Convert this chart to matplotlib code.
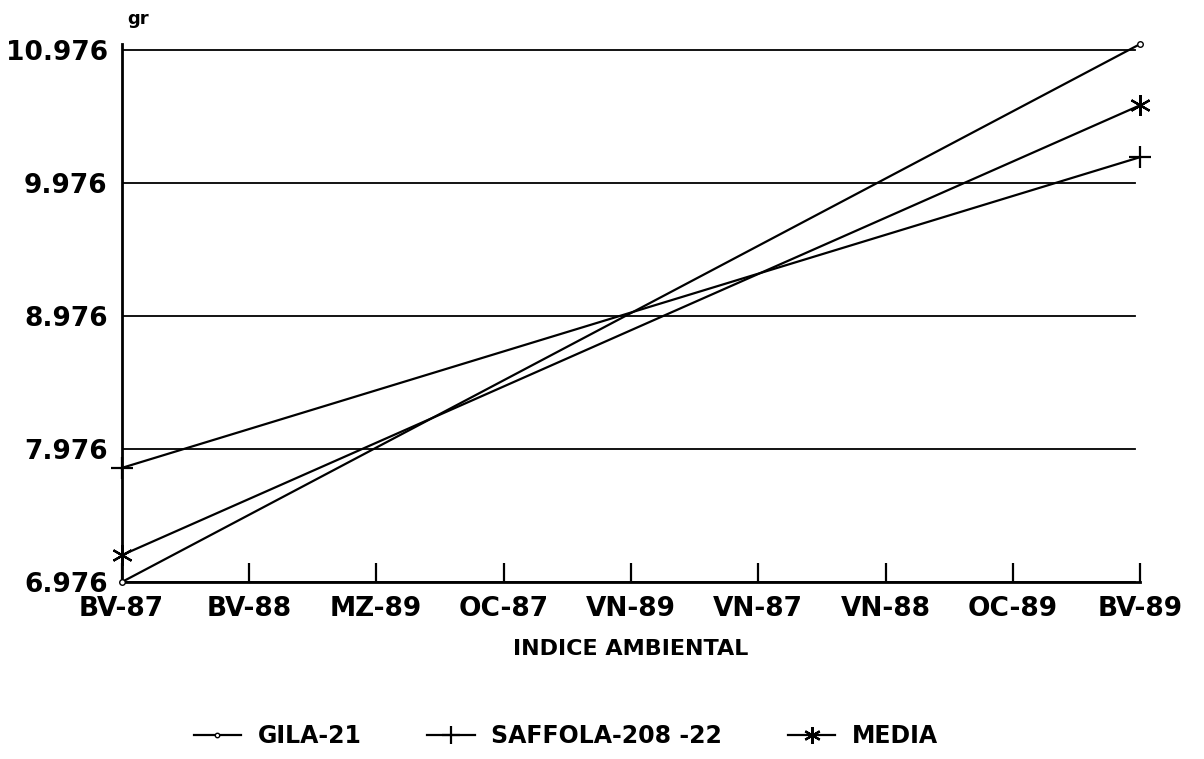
import matplotlib
matplotlib.use("Agg")
import matplotlib.pyplot as plt

# categorias del indice ambiental
categorias = ["BV-87", "BV-88", "MZ-89", "OC-87", "VN-89", "VN-87", "VN-88", "OC-89", "BV-89"]
y_ticks = [6.976, 7.976, 8.976, 9.976, 10.976]

# rectas de regresion: valor en el primer y ultimo ambiente
x_extremos = [0, 8]
gila_21 = [6.976, 11.02]
saffola = [7.834, 10.17]
media = [7.178, 10.56]

plt.rcParams['font.family'] = ['DejaVu Sans']
plt.rcParams['font.weight'] = 'bold'

fig = plt.figure(figsize=(12.04, 7.59), dpi=100)
ax = fig.add_axes([0.101, 0.233, 0.846, 0.709])

# lineas horizontales de referencia
for yv in y_ticks:
    ax.axhline(yv, xmin=0, xmax=0.995, color='black', linewidth=1.3, zorder=1)

asterisco = (6, 2, 0)
ax.plot(x_extremos, gila_21, color='black', linewidth=1.6, marker='o', markersize=4,
        markerfacecolor='white', label='GILA-21', clip_on=False, zorder=3)
ax.plot(x_extremos, saffola, color='black', linewidth=1.6, marker='+', markersize=16,
        markeredgewidth=1.6, label='SAFFOLA-208 -22', clip_on=False, zorder=3)
ax.plot(x_extremos, media, color='black', linewidth=1.6, marker=asterisco, markersize=15,
        markeredgewidth=1.6, label='MEDIA', clip_on=False, zorder=3)

ax.set_xlim(0, 8)
ax.set_ylim(6.976, 11.02)
ax.set_xticks(range(len(categorias)))
ax.set_xticklabels(categorias, fontsize=19, fontweight='bold')
ax.set_yticks(y_ticks)
ax.set_yticklabels([f"{v:.3f}" for v in y_ticks], fontsize=19, fontweight='bold')
ax.tick_params(axis='x', direction='in', length=14, width=1.6, pad=10)
ax.tick_params(axis='y', length=0, pad=10)

for lado in ['top', 'right']:
    ax.spines[lado].set_visible(False)
ax.spines['left'].set_linewidth(2)
ax.spines['bottom'].set_linewidth(2)

ax.set_xlabel("INDICE AMBIENTAL", fontsize=16, fontweight='bold', labelpad=12)
fig.text(0.106, 0.975, "gr", fontsize=13, fontweight='bold', ha='left', va='center')

fig.legend(loc='lower center', bbox_to_anchor=(0.47, -0.014), ncol=3, frameon=False,
           fontsize=17, handlelength=2.0, columnspacing=2.8, handletextpad=0.7,
           markerscale=0.8)

fig.savefig("out.png", dpi=100)
